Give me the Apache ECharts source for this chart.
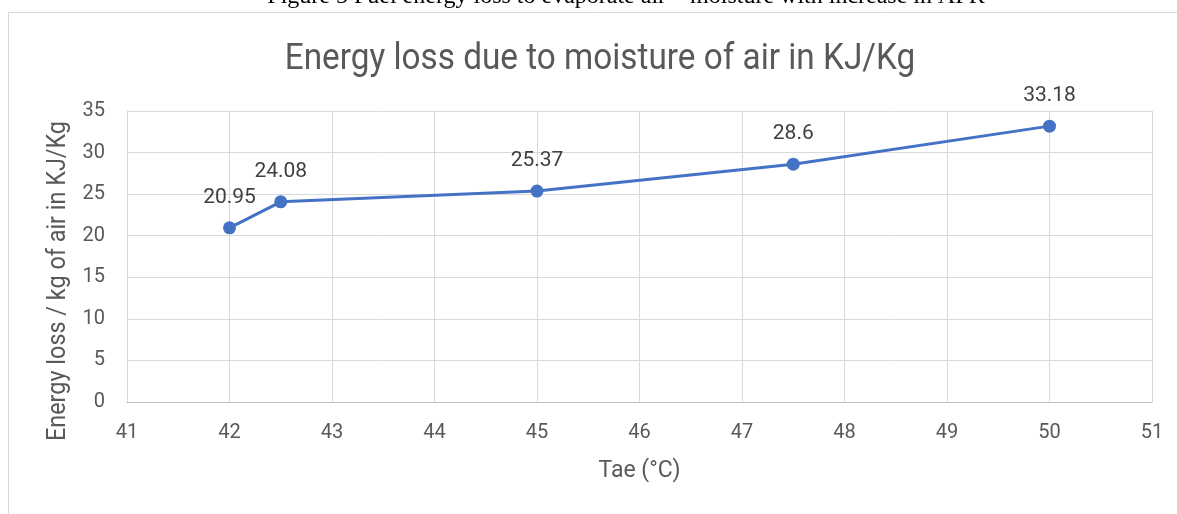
<!DOCTYPE html>
<html>
<head>
<meta charset="utf-8">
<script src="https://cdn.jsdelivr.net/npm/echarts@6/dist/echarts.min.js"></script>
<style>
  html, body { margin: 0; padding: 0; background: #fff; }
  #chart { width: 1177px; height: 514px; }
</style>
</head>
<body>
<div id="chart"></div>
<script>
// data
const tae = [42, 42.5, 45, 47.5, 50];
const energyLoss = [20.95, 24.08, 25.37, 28.6, 33.18];
const xTicks = [41, 51, 1];   // min, max, step
const yTicks = [0, 35, 5];

const font = "Roboto, 'Liberation Sans', sans-serif";
const chart = echarts.init(document.getElementById("chart"));

const option = {
  backgroundColor: "#fff",
  animation: false,
  graphic: [
    {
      type: "rect",
      shape: { x: 8.5, y: 12.5, width: 1200, height: 520 },
      style: { fill: "none", stroke: "#d9d9d9", lineWidth: 1 },
      silent: true
    },
    {
      // figure caption, cut off by the top edge
      type: "text",
      x: 626,
      y: -3,
      style: {
        text: "Figure 5 Fuel energy loss to evaporate air \u2013 moisture with increase in AFR",
        font: "24px 'Liberation Serif', 'DejaVu Serif', serif",
        fill: "#000",
        align: "center",
        verticalAlign: "middle"
      }
    },
    {
      type: "text",
      x: 600,
      y: 60,
      scaleX: 0.9,
      style: {
        text: "Energy loss due to moisture of air in KJ/Kg",
        font: "37px " + font,
        fill: "#595959",
        align: "center",
        verticalAlign: "middle"
      }
    },
    {
      type: "text",
      x: 58,
      y: 281,
      rotation: Math.PI / 2,
      scaleX: 0.9,
      style: {
        text: "Energy loss / kg of air in KJ/Kg",
        font: "26px " + font,
        fill: "#595959",
        align: "center",
        verticalAlign: "middle"
      }
    }
  ],
  grid: { left: 127, right: 25, top: 111, bottom: 112 },
  xAxis: {
    type: "value",
    min: xTicks[0],
    max: xTicks[1],
    interval: xTicks[2],
    name: "Tae (°C)",
    nameLocation: "middle",
    nameGap: 58,
    nameTextStyle: { fontFamily: font, fontSize: 23, color: "#595959" },
    axisLine: { lineStyle: { color: "#bfbfbf", width: 1 } },
    axisTick: { show: false },
    axisLabel: { fontFamily: font, fontSize: 20, color: "#595959", margin: 21 },
    splitLine: { show: true, lineStyle: { color: "#d9d9d9", width: 1 } }
  },
  yAxis: {
    type: "value",
    min: yTicks[0],
    max: yTicks[1],
    interval: yTicks[2],
    axisLine: { show: true, lineStyle: { color: "#d9d9d9", width: 1 } },
    axisTick: { show: false },
    axisLabel: { fontFamily: font, fontSize: 20, color: "#595959", margin: 22 },
    splitLine: { show: true, lineStyle: { color: "#d9d9d9", width: 1 } }
  },
  series: [
    {
      type: "line",
      data: tae.map((x, i) => [x, energyLoss[i]]),
      color: "#4472C4",
      lineStyle: { width: 3 },
      symbol: "circle",
      symbolSize: 13,
      label: {
        show: true,
        position: "top",
        distance: 13,
        fontFamily: font,
        fontSize: 21,
        color: "#404040",
        formatter: (p) => String(p.value[1])
      }
    }
  ]
};

chart.setOption(option);
</script>
</body>
</html>
